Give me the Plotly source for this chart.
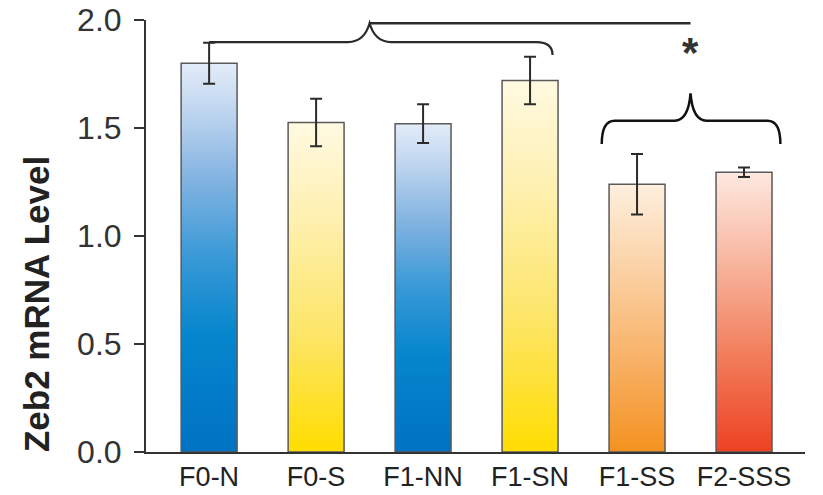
import plotly.graph_objects as go

categories = ["F0-N", "F0-S", "F1-NN", "F1-SN", "F1-SS", "F2-SSS"]
values = [1.80, 1.525, 1.52, 1.72, 1.24, 1.295]
errors = [0.095, 0.11, 0.09, 0.11, 0.14, 0.022]
y_ticks = [0.0, 0.5, 1.0, 1.5, 2.0]
y_tick_text = ["0.0", "0.5", "1.0", "1.5", "2.0"]

# gradient colour stops (bottom -> top) per bar
bar_gradients = [
    [[0, "#0072C2"], [0.3, "#0686CD"], [0.5, "#3899D6"], [0.7, "#82B3E1"], [0.88, "#C0D6EF"], [1, "#E3ECF8"]],
    [[0, "#FFDD00"], [0.35, "#FDE566"], [0.7, "#FEF0AE"], [1, "#FFF9E2"]],
    [[0, "#0072C2"], [0.3, "#0686CD"], [0.5, "#3899D6"], [0.7, "#82B3E1"], [0.88, "#C0D6EF"], [1, "#E3ECF8"]],
    [[0, "#FFDD00"], [0.35, "#FDE566"], [0.7, "#FEF0AE"], [1, "#FFF9E2"]],
    [[0, "#F39220"], [0.35, "#F8B268"], [0.7, "#FBD3A8"], [1, "#FEEFDF"]],
    [[0, "#EC4222"], [0.35, "#F27E5C"], [0.7, "#F8B9A2"], [1, "#FDE8E0"]],
]

bar_width = 0.523

# significance brace anchors (x in category units, y in data units)
left_brace = dict(x0=0.0, x1=3.21, xm=1.5, y_line=1.898, y_peak=1.985, y_end_r=1.838)
right_brace = dict(x0=3.67, x1=5.34, xm=4.5, y_line=1.534, y_peak=1.66, y_end=1.426)
star_pos = (4.5, 1.85)

fig = go.Figure()

for i, (v, cs) in enumerate(zip(values, bar_gradients)):
    xl, xr = i - bar_width / 2, i + bar_width / 2
    fig.add_trace(go.Scatter(
        x=[xl, xr, xr, xl, xl], y=[0, 0, v, v, 0],
        mode="lines", fill="toself", line=dict(width=1.5, color="#5a5a5a"),
        fillgradient=dict(type="vertical", colorscale=cs, start=0, stop=v),
        hoverinfo="skip", showlegend=False,
    ))

fig.add_trace(go.Scatter(
    x=list(range(len(categories))), y=values, mode="markers",
    marker=dict(size=1, color="rgba(0,0,0,0)"),
    error_y=dict(type="data", array=errors, visible=True, color="#2b2b2b", thickness=2, width=6),
    showlegend=False,
))

def brace_path_left(b):
    x0, x1, xm, yl, yp, yr = b["x0"], b["x1"], b["xm"], b["y_line"], b["y_peak"], b["y_end_r"]
    return (f"M {x0},{yl} L {xm-0.2},{yl} "
            f"Q {xm-0.05},{yl} {xm},{yp} "
            f"Q {xm+0.05},{yl} {xm+0.2},{yl} "
            f"L {x1-0.15},{yl} Q {x1},{yl} {x1},{yr}")

def brace_path_right(b):
    x0, x1, xm, yl, yp, ye = b["x0"], b["x1"], b["xm"], b["y_line"], b["y_peak"], b["y_end"]
    return (f"M {x0},{ye} Q {x0},{yl} {x0+0.12},{yl} "
            f"L {xm-0.15},{yl} Q {xm-0.02},{yl} {xm},{yp} "
            f"Q {xm+0.02},{yl} {xm+0.15},{yl} "
            f"L {x1-0.12},{yl} Q {x1},{yl} {x1},{ye}")

shapes = [
    dict(type="path", xref="x", yref="y", path=brace_path_left(left_brace),
         line=dict(color="#2b2b2b", width=2.2)),
    dict(type="line", xref="x", yref="y", x0=left_brace["xm"], x1=right_brace["xm"],
         y0=left_brace["y_peak"], y1=left_brace["y_peak"], line=dict(color="#2b2b2b", width=2.5)),
    dict(type="path", xref="x", yref="y", path=brace_path_right(right_brace),
         line=dict(color="#111111", width=2.5)),
]

fig.add_annotation(x=star_pos[0], y=star_pos[1], text="<b>*</b>", showarrow=False,
                   font=dict(size=42, color="#333333", family="Liberation Sans, Arial"))

fig.add_annotation(xref="paper", yref="paper", x=-0.165, y=0.343, text="<b>Zeb2 mRNA Level</b>",
                   textangle=-90, showarrow=False, xanchor="center", yanchor="middle",
                   font=dict(size=35, color="#222222", family="Liberation Sans, Arial"))

fig.update_layout(
    width=823, height=495,
    margin=dict(l=146, r=18, t=20, b=43),
    paper_bgcolor="white", plot_bgcolor="white",
    shapes=shapes,
    font=dict(family="Liberation Sans, Arial, sans-serif", color="#222222"),
    xaxis=dict(range=[-0.59, 5.57], tickvals=list(range(len(categories))), ticktext=categories,
               showline=True, linecolor="#333333", linewidth=2, ticks="", showgrid=False,
               zeroline=False, tickfont=dict(size=27, color="#222222"), automargin=False,
               ticklabelstandoff=0),
    yaxis=dict(range=[0, 2.0], tickvals=y_ticks, ticktext=y_tick_text,
               showline=True, linecolor="#333333", linewidth=2, ticks="outside",
               ticklen=10, tickwidth=2, tickcolor="#333333", showgrid=False, zeroline=False,
               tickfont=dict(size=32, color="#333333"), ticklabelstandoff=6, automargin=False),
)

fig.write_html("out.html")
